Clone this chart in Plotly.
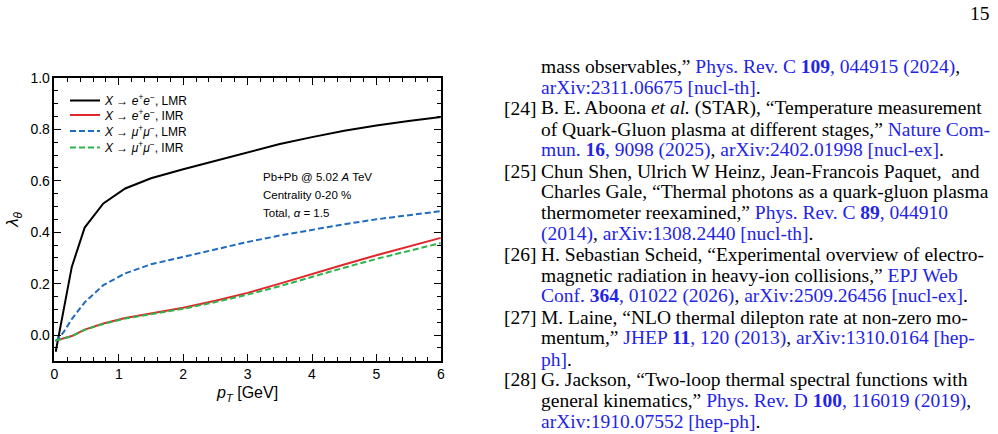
import plotly.graph_objects as go

# ---------------- data ----------------
pT = [0.02, 0.14, 0.27, 0.47, 0.76, 1.1, 1.5, 2.0, 2.5, 3.0, 3.5, 4.0, 4.5, 5.0, 5.5, 6.0]
ee_lmr = [-0.065, 0.095, 0.265, 0.418, 0.512, 0.570, 0.610, 0.645, 0.678, 0.713, 0.743, 0.770, 0.795, 0.815, 0.833, 0.848]
ee_imr = [-0.022, -0.013, -0.004, 0.021, 0.045, 0.066, 0.084, 0.106, 0.133, 0.164, 0.200, 0.238, 0.274, 0.310, 0.345, 0.378]
mm_lmr = [-0.025, 0.010, 0.062, 0.127, 0.194, 0.240, 0.275, 0.304, 0.333, 0.362, 0.387, 0.410, 0.431, 0.450, 0.467, 0.482]
mm_imr = [-0.022, -0.014, -0.005, 0.020, 0.043, 0.064, 0.082, 0.102, 0.128, 0.157, 0.190, 0.227, 0.262, 0.296, 0.328, 0.358]

series_names = [
    "<i>X</i> → <i>e</i><sup>+</sup><i>e</i><sup>−</sup>, LMR",
    "<i>X</i> → <i>e</i><sup>+</sup><i>e</i><sup>−</sup>, IMR",
    "<i>X</i> → <i>μ</i><sup>+</sup><i>μ</i><sup>−</sup>, LMR",
    "<i>X</i> → <i>μ</i><sup>+</sup><i>μ</i><sup>−</sup>, IMR",
]
series_values = [ee_lmr, ee_imr, mm_lmr, mm_imr]
series_colors = ["#000000", "#e0282c", "#1f6cbf", "#2cb34a"]
series_dash = ["solid", "solid", "6px,3px", "6px,3px"]

x_ticks = [0, 1, 2, 3, 4, 5, 6]
y_ticks = [0.0, 0.2, 0.4, 0.6, 0.8, 1.0]
y_tick_labels = ["0.0", "0.2", "0.4", "0.6", "0.8", "1.0"]

info_lines = [
    "Pb+Pb @ 5.02 <i>A</i> TeV",
    "Centrality 0-20 %",
    "Total, <i>α</i> = 1.5",
]

B = "<span style='color:#2424e8'>"
E = "</span>"
ref_labels = ["", "", "[24]", "", "", "[25]", "", "", "", "[26]", "", "", "[27]", "", "", "[28]", "", ""]
ref_lines = [
    "mass observables,” " + B + "Phys. Rev. C <b>109</b>, 044915 (2024)" + E + ",",
    B + "arXiv:2311.06675 [nucl-th]" + E + ".",
    "B. E. Aboona <i>et al.</i> (STAR), “Temperature measurement",
    "of Quark-Gluon plasma at different stages,” " + B + "Nature Com-" + E,
    B + "mun. <b>16</b>, 9098 (2025)" + E + ", " + B + "arXiv:2402.01998 [nucl-ex]" + E + ".",
    "Chun Shen, Ulrich W Heinz, Jean-Francois Paquet,  and",
    "Charles Gale, “Thermal photons as a quark-gluon plasma",
    "thermometer reexamined,” " + B + "Phys. Rev. C <b>89</b>, 044910" + E,
    B + "(2014)" + E + ", " + B + "arXiv:1308.2440 [nucl-th]" + E + ".",
    "H. Sebastian Scheid, “Experimental overview of electro-",
    "magnetic radiation in heavy-ion collisions,” " + B + "EPJ Web" + E,
    B + "Conf. <b>364</b>, 01022 (2026)" + E + ", " + B + "arXiv:2509.26456 [nucl-ex]" + E + ".",
    "M. Laine, “NLO thermal dilepton rate at non-zero mo-",
    "mentum,” " + B + "JHEP <b>11</b>, 120 (2013)" + E + ", " + B + "arXiv:1310.0164 [hep-" + E,
    B + "ph]" + E + ".",
    "G. Jackson, “Two-loop thermal spectral functions with",
    "general kinematics,” " + B + "Phys. Rev. D <b>100</b>, 116019 (2019)" + E + ",",
    B + "arXiv:1910.07552 [hep-ph]" + E + ".",
]
page_number = "15"

# ---------------- layout helpers ----------------
W, H = 998, 434
def px(x):
    return x / W
def py(y):
    return 1 - y / H

legend_ids = ["legend", "legend2", "legend3", "legend4"]
legend_tops = [86, 100.5, 116.5, 133]

fig = go.Figure()
for name, vals, col, dash, lid in zip(series_names, series_values, series_colors, series_dash, legend_ids):
    fig.add_trace(go.Scatter(x=pT, y=vals, mode="lines", name=name, legend=lid,
                             line=dict(color=col, width=2, dash=dash)))

annotations = []
for i, t in enumerate(info_lines):
    annotations.append(dict(text=t, x=px(261), y=py(176.7 + 18 * i), xref="paper", yref="paper",
                            xanchor="left", yanchor="middle", showarrow=False,
                            font=dict(family="Liberation Sans", size=11.5, color="black")))

serif = "Liberation Serif"
fs = 19.5
for i, (lab, t) in enumerate(zip(ref_labels, ref_lines)):
    yy = 66.7 + 20.88 * i
    if lab:
        annotations.append(dict(text=lab, x=px(502), y=py(yy), xref="paper", yref="paper",
                                xanchor="left", yanchor="middle", showarrow=False,
                                font=dict(family=serif, size=fs, color="black")))
    annotations.append(dict(text=t, x=px(539), y=py(yy), xref="paper", yref="paper",
                            xanchor="left", yanchor="middle", showarrow=False,
                            font=dict(family=serif, size=fs, color="black")))
annotations.append(dict(text=page_number, x=px(992), y=py(14), xref="paper", yref="paper",
                        xanchor="right", yanchor="middle", showarrow=False,
                        font=dict(family=serif, size=fs, color="black")))

axis_common = dict(showline=True, linecolor="black", linewidth=1.5, mirror="ticks",
                   ticks="inside", ticklen=7, tickwidth=1, tickcolor="black",
                   showgrid=False, zeroline=False, automargin=False,
                   tickfont=dict(family="Liberation Sans", size=14, color="black"))

legend_style = dict(xanchor="left", yanchor="top", bgcolor="rgba(0,0,0,0)", borderwidth=0,
                    font=dict(family="Liberation Sans", size=12, color="black"),
                    tracegroupgap=0, itemwidth=30)

layout_legends = {}
for lid, top in zip(legend_ids, legend_tops):
    layout_legends[lid] = dict(x=px(65), y=py(top), **legend_style)

fig.update_layout(
    width=W, height=H,
    margin=dict(l=0, r=0, t=0, b=0, pad=0),
    paper_bgcolor="white", plot_bgcolor="white",
    xaxis=dict(domain=[px(54.4), px(440.8)], range=[0, 6], tickvals=x_ticks,
               minor=dict(dtick=0.2, ticks="inside", ticklen=4, tickcolor="black", showgrid=False),
               title=dict(text="<i>p</i><sub><i>T</i></sub> [GeV]", standoff=6,
                          font=dict(family="Liberation Sans", size=16, color="black")),
               **axis_common),
    yaxis=dict(domain=[py(360.7), py(78)], range=[-0.1, 1.0], tickvals=y_ticks, ticktext=y_tick_labels,
               minor=dict(dtick=0.05, ticks="inside", ticklen=4, tickcolor="black", showgrid=False),
               title=dict(text="<i>λ</i><sub><i>θ</i></sub>", standoff=7,
                          font=dict(family="Liberation Sans", size=17, color="black")),
               **axis_common),
    annotations=annotations,
    showlegend=True,
    **layout_legends,
)

fig.write_html("out.html")
